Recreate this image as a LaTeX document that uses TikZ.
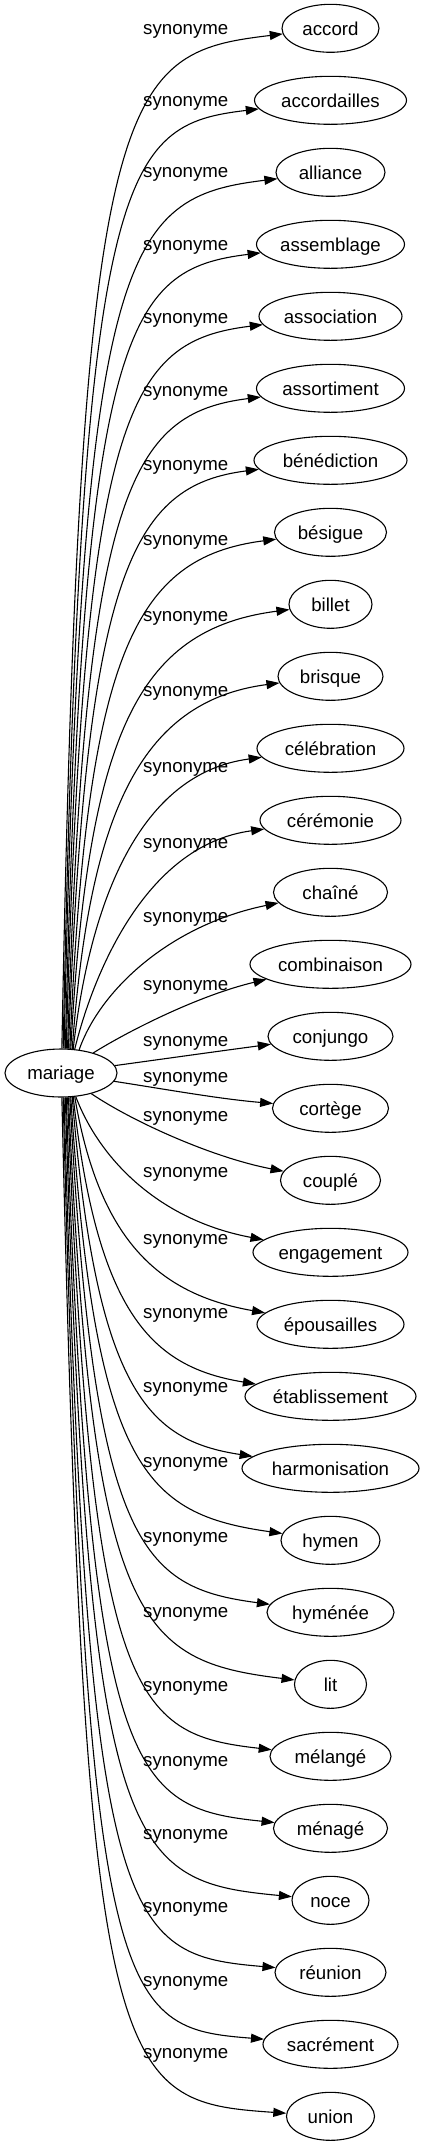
\documentclass[tikz,border=0pt]{standalone}
\usepackage{fontspec}
\setmainfont{Liberation Sans}
\usetikzlibrary{shapes.geometric,arrows.meta}
\tikzset{
  gfont/.style={font=\fontsize{18.67pt}{22pt}\selectfont},
  oval/.style={ellipse, draw, line width=1.1pt, inner sep=0pt, minimum height=48pt,
               text height=13.4pt, text depth=0pt, gfont},
  lbl/.style={anchor=base west, inner sep=0pt, gfont},
  conn/.style={line width=1.1pt, -{Triangle[length=13pt,width=9pt]}}
}
\begin{document}
\begin{tikzpicture}[x=1pt,y=-1pt]
\useasboundingbox (0,0) rectangle (425,2147);
\node[oval, minimum width=112pt] (root) at (61,1073) {mariage};
\foreach \t/\w/\ly/\ax/\ay/\bx/\by/\s [count=\i from 0] in {
 accord/97/30/80/80.3/120/53.3/root.88,
 accordailles/152/102/81/162.3/122/125.3/root.85.5,
 alliance/109/173/82/244.3/124/197.3/root.83,
 assemblage/148/246/83/326.3/126/269.3/root.80.5,
 association/143/319/84/408.3/128/341.3/root.78,
 assortiment/148/392/85/490.3/130/413.3/root.75.5,
 bénédiction/153/466/86/572.3/132/485.3/root.73,
 bésigue/112/541/87/654.3/134/557.3/root.70.5,
 billet/83/617/88/736.3/136/629.3/root.68,
 brisque/105/692/89/818.3/138/701.3/root.65.5,
 célébration/147/768/90/900.3/140/773.3/root.63,
 cérémonie/141/844/91/982.3/142/845.3/root.60.5,
 chaîné/114/918/100/990/170/925/root.52,
 combinaison/161/986/130/1030/200/995/root,
 conjungo/125/1042/170/1058/220/1051/root,
 cortège/116/1078/170/1090/220/1099/root,
 couplé/100/1117/130/1120/210/1157/root,
 engagement/155/1173/100/1160.3/160/1220.3/root.-58,
 épousailles/147/1240/98.75/1237.7/156.25/1293.7/root.-60.5,
 établissement/171/1314/97.5/1315.1/152.5/1367.1/root.-63,
 harmonisation/177/1388/96.25/1392.5/148.8/1440.5/root.-65.5,
 hymen/99/1463/95/1469.9/145/1514/root.-68,
 hyménée/127/1538/93.75/1547.3/141.3/1587.4/root.-70.5,
 lit/72/1613/92.5/1624.8/137.5/1660.8/root.-73,
 mélangé/121/1687/91.25/1702.2/133.8/1734.2/root.-75.5,
 ménagé/114/1762/90/1779.6/130/1807.6/root.-78,
 noce/77/1835/88.75/1857/126.3/1881/root.-80.5,
 réunion/111/1908/87.5/1934.4/122.5/1954.5/root.-83,
 sacrément/135/1982/86.25/2011.8/118.8/2027.9/root.-85.5,
 union/88/2054/85/2089.3/115/2101.3/root.-88}
{
  \node[oval, minimum width=\w pt] (t\i) at (330.5,28.3+72*\i) {\t};
  \node[lbl] (l\i) at (143,\ly+4) {synonyme};
  \draw[conn] (\s) .. controls (\ax,\ay) and (\bx,\by) .. (t\i);
}
\end{tikzpicture}
\end{document}
